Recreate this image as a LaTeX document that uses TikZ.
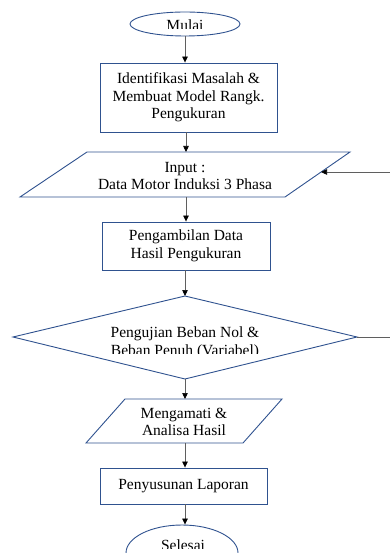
\documentclass[tikz,border=0pt]{standalone}
\usepackage{fontspec}
\setmainfont{Liberation Serif}
\usetikzlibrary{shapes.geometric,arrows.meta}
\definecolor{shapeblue}{RGB}{47,82,143}
\definecolor{linegray}{RGB}{95,95,95}
\begin{document}
\begin{tikzpicture}[x=1pt,y=-1pt,
  shp/.style={draw=shapeblue, line width=0.9pt},
  txt/.style={font=\fontsize{15.5}{17.5}\selectfont, align=center, inner sep=0pt, text=black},
  conn/.style={draw=linegray, line width=0.7pt, -{Triangle[length=6pt,width=5.5pt,color=black]}},
  plain/.style={draw=linegray, line width=0.7pt}]
\useasboundingbox (0,0) rectangle (390,553);

% Start
\node[shp, ellipse, minimum width=110pt, minimum height=24pt, inner sep=0pt] (start) at (185,24) {};
\begin{scope}
  \clip (100,0) rectangle (270,29);
  \node[txt, anchor=base] (starttext) at (185,31) {Mulai};
\end{scope}

% Box 1
\node[shp, txt, rectangle, minimum width=177pt, minimum height=69pt] (ident) at (188.5,97.5)
  {Identifikasi Masalah \&\\ Membuat Model Rangk.\\ Pengukuran};

% Parallelogram 1
\coordinate (p1tl) at (87,152);
\coordinate (p1tr) at (350,152);
\coordinate (p1br) at (285,197);
\coordinate (p1bl) at (20,197);
\coordinate (p1top) at (186,152);
\coordinate (p1bot) at (186,197);
\coordinate (p1right) at (321,172);
\coordinate (fbin) at (391,172);
\draw[shp] (p1tl) -- (p1tr) -- (p1br) -- (p1bl) -- cycle;
\node[txt] (input) at (185,176) {Input :\\ Data Motor Induksi 3 Phasa};

% Box 2
\node[shp, txt, rectangle, minimum width=168pt, minimum height=48pt] (ambil) at (186,246)
  {Pengambilan Data\\ Hasil Pengukuran};

% Diamond
\coordinate (dtop) at (185,296);
\coordinate (dleft) at (13,337);
\coordinate (dright) at (357,337);
\coordinate (dbot) at (185,379);
\coordinate (dout) at (391,337);
\draw[shp] (dtop) -- (dright) -- (dbot) -- (dleft) -- cycle;
\node[txt, anchor=base] (uji1) at (185,337) {Pengujian Beban Nol \&};
\begin{scope}
  \clip (0,340) rectangle (390,353);
  \node[txt, anchor=base] (uji2) at (185,355) {Beban Penuh (Variabel)};
\end{scope}

% Parallelogram 2
\coordinate (p2tl) at (125,399);
\coordinate (p2tr) at (282,399);
\coordinate (p2br) at (243,443);
\coordinate (p2bl) at (86,443);
\coordinate (p2top) at (185,399);
\coordinate (p2bot) at (185,443);
\draw[shp] (p2tl) -- (p2tr) -- (p2br) -- (p2bl) -- cycle;
\node[txt] (amati) at (184,422) {Mengamati \&\\ Analisa Hasil};

% Box 3
\node[shp, txt, rectangle, minimum width=167pt, minimum height=36pt] (lapor) at (183.5,486)
  {Penyusunan Laporan};

% End
\node[shp, ellipse, minimum width=112pt, minimum height=56pt, inner sep=0pt] (finish) at (182,553) {};
\begin{scope}
  \clip (100,530) rectangle (270,548);
  \node[txt, anchor=base] (finishtext) at (183,550) {Selesai};
\end{scope}

% Connectors
\draw[conn] (start.south) -- (start.south |- ident.north);
\draw[conn] (ident.south -| p1top) -- (p1top);
\draw[conn] (fbin) -- (p1right);
\draw[conn] (p1bot) -- (p1bot |- ambil.north);
\draw[conn] (ambil.south -| dtop) -- (dtop);
\draw[plain] (dright) -- (dout);
\draw[conn] (dbot) -- (p2top);
\draw[conn] (p2bot) -- (p2bot |- lapor.north);
\draw[conn] (lapor.south -| p2bot) -- (p2bot |- finish.north);
\end{tikzpicture}
\end{document}
